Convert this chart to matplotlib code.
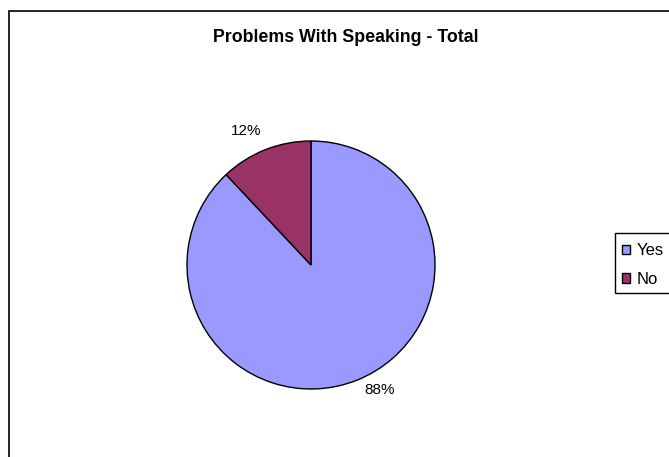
import matplotlib.pyplot as plt
from matplotlib.patches import Rectangle

labels = ['Yes', 'No']
values = [88, 12]
colors = ['#9999FF', '#993366']

plt.rcParams['font.family'] = ['Liberation Sans', 'DejaVu Sans']

W, H = 669, 457
fig = plt.figure(figsize=(W / 100, H / 100), dpi=100)

# outer chart frame (cropped on the right and bottom)
fig.patches.append(Rectangle((9 / W, -0.1), 1.2, (H - 11) / H + 0.1, transform=fig.transFigure,
                             fill=False, edgecolor='black', linewidth=1.2))

fig.text(345.5 / W, 1 - 42.5 / H, 'Problems With Speaking - Total', ha='center', va='baseline',
         fontsize=12.8, fontweight='bold')

cx, cy, r = 311, 265, 124
ax = fig.add_axes([(cx - r) / W, (H - cy - r) / H, 2 * r / W, 2 * r / H])
wedges, texts, autotexts = ax.pie(values, colors=colors, startangle=90, counterclock=False,
                                  autopct='%1.0f%%', pctdistance=1.25,
                                  wedgeprops=dict(edgecolor='black', linewidth=1),
                                  textprops=dict(fontsize=11))
ax.set_xlim(-1, 1)
ax.set_ylim(-1, 1)
ax.set_aspect('auto')
autotexts[0].set_position((0.556, -1.01))
autotexts[1].set_position((-0.52, 1.08))

# legend frame runs off the right edge like the reference
fig.patches.append(Rectangle((615 / W, 1 - 293 / H), 0.2, 60 / H, transform=fig.transFigure,
                             fill=False, edgecolor='black', linewidth=1))
fig.legend(wedges, labels, loc='center left', bbox_to_anchor=(615 / W, 1 - 265 / H),
           frameon=False, fontsize=12, handlelength=0.5, handleheight=0.5, handletextpad=0.4,
           borderpad=0.4, labelspacing=0.82, borderaxespad=0)

fig.savefig('out.png', dpi=100)
